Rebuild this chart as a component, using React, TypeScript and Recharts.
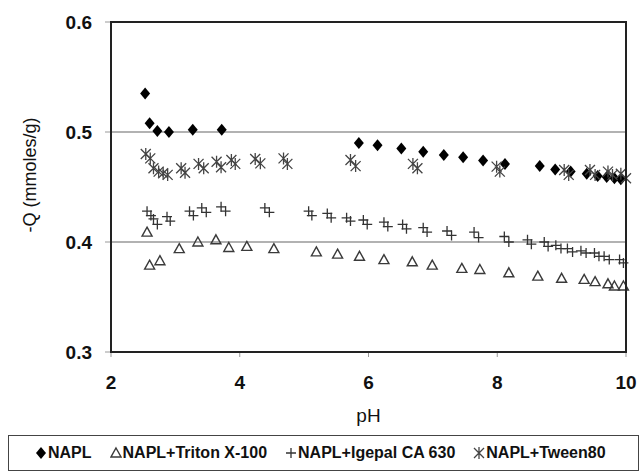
import React from "react";
import {
  ScatterChart,
  Scatter,
  XAxis,
  YAxis,
  CartesianGrid,
  Legend,
} from "recharts";

const FONT = "Arial, 'Liberation Sans', sans-serif";

// pH values and -Q (mmoles/g)
const naplPH = [2.53, 2.6, 2.72, 2.9, 3.27, 3.72, 5.85, 6.14, 6.51, 6.85, 7.17, 7.47, 7.78, 8.12, 8.66, 8.9, 9.14, 9.39, 9.56, 9.7, 9.82, 9.92];
const naplQ = [0.535, 0.508, 0.501, 0.5, 0.502, 0.502, 0.49, 0.488, 0.485, 0.482, 0.479, 0.477, 0.474, 0.471, 0.469, 0.466, 0.464, 0.462, 0.46, 0.459, 0.458, 0.457];

const tritonPH = [2.56, 2.6, 2.76, 3.06, 3.35, 3.63, 3.83, 4.11, 4.53, 5.19, 5.52, 5.86, 6.24, 6.68, 6.99, 7.45, 7.73, 8.18, 8.63, 9.0, 9.35, 9.52, 9.72, 9.82, 9.96];
const tritonQ = [0.409, 0.379, 0.383, 0.394, 0.4, 0.402, 0.395, 0.396, 0.394, 0.391, 0.389, 0.387, 0.384, 0.382, 0.379, 0.376, 0.375, 0.372, 0.369, 0.367, 0.366, 0.364, 0.362, 0.36, 0.36];

const igepalPH = [2.56, 2.62, 2.66, 2.72, 2.87, 2.92, 3.22, 3.28, 3.41, 3.48, 3.71, 3.78, 4.39, 4.46, 5.07, 5.12, 5.36, 5.42, 5.66, 5.72, 5.92, 5.98, 6.24, 6.3, 6.53, 6.59, 6.85, 6.91, 7.22, 7.29, 7.64, 7.71, 8.11, 8.18, 8.47, 8.53, 8.73, 8.79, 8.91, 8.99, 9.09, 9.17, 9.3, 9.38, 9.51, 9.58, 9.66, 9.74, 9.9, 9.96];
const igepalQ = [0.428, 0.424, 0.421, 0.416, 0.423, 0.419, 0.428, 0.424, 0.431, 0.427, 0.432, 0.428, 0.431, 0.427, 0.428, 0.424, 0.426, 0.422, 0.422, 0.419, 0.42, 0.416, 0.418, 0.414, 0.416, 0.412, 0.413, 0.409, 0.41, 0.406, 0.409, 0.404, 0.405, 0.4, 0.402, 0.398, 0.4, 0.396, 0.397, 0.394, 0.394, 0.391, 0.392, 0.39, 0.39, 0.387, 0.387, 0.384, 0.384, 0.381];

const tweenPH = [2.54, 2.61, 2.66, 2.74, 2.81, 2.88, 3.09, 3.15, 3.36, 3.44, 3.64, 3.71, 3.87, 3.93, 4.24, 4.32, 4.68, 4.74, 5.72, 5.8, 6.69, 6.76, 7.99, 8.04, 9.04, 9.11, 9.44, 9.52, 9.72, 9.79, 9.92, 10.0];
const tweenQ = [0.48, 0.476, 0.467, 0.464, 0.4625, 0.461, 0.467, 0.463, 0.471, 0.467, 0.473, 0.468, 0.4745, 0.471, 0.4755, 0.4715, 0.476, 0.471, 0.4745, 0.469, 0.471, 0.467, 0.4685, 0.464, 0.4655, 0.461, 0.4655, 0.461, 0.464, 0.461, 0.462, 0.458];

const xTicks = [2, 4, 6, 8, 10];
const yTicks = [0.3, 0.4, 0.5, 0.6];
const gridValues = [0.4, 0.5];

// chart layout
const W = 641;
const H = 471;
const M = { top: 22, right: 15, left: 0, bottom: 0 };
const Y_AXIS_W = 111;
const X_AXIS_H = 83;
const LEGEND_H = 36;

const toPoints = (xs: number[], ys: number[]) => xs.map((x, i) => ({ x, y: ys[i] }));

const Diamond = ({ cx, cy }: any) => (
  <path d={`M${cx},${cy - 6}L${cx + 5},${cy}L${cx},${cy + 6}L${cx - 5},${cy}Z`} fill="#000" />
);
const Triangle = ({ cx, cy }: any) => (
  <path
    d={`M${cx},${cy - 5}L${cx + 5},${cy + 4}L${cx - 5},${cy + 4}Z`}
    fill="none"
    stroke="#3a3a3a"
    strokeWidth={1.4}
  />
);
const Plus = ({ cx, cy }: any) => (
  <path d={`M${cx - 5},${cy}H${cx + 5}M${cx},${cy - 5}V${cy + 5}`} stroke="#333" strokeWidth={1.3} />
);
const Star = ({ cx, cy }: any) => (
  <path
    d={`M${cx - 5},${cy - 5}L${cx + 5},${cy + 5}M${cx + 5},${cy - 5}L${cx - 5},${cy + 5}M${cx},${cy - 6}V${cy + 6}`}
    stroke="#444"
    strokeWidth={1.3}
  />
);

const series = [
  { name: "NAPL", shape: Diamond, data: toPoints(naplPH, naplQ) },
  { name: "NAPL+Triton X-100", shape: Triangle, data: toPoints(tritonPH, tritonQ) },
  { name: "NAPL+Igepal CA 630", shape: Plus, data: toPoints(igepalPH, igepalQ) },
  { name: "NAPL+Tween 80", shape: Star, data: toPoints(tweenPH, tweenQ) },
];

const legendLabels = ["NAPL", "NAPL+Triton X-100", "NAPL+Igepal CA 630", "NAPL+Tween80"];

function LegendBox() {
  return (
    <div
      style={{
        boxSizing: "border-box",
        height: LEGEND_H,
        border: "1.5px solid #444",
        display: "flex",
        alignItems: "center",
        paddingLeft: 26,
        gap: 18,
        fontFamily: FONT,
        fontWeight: "bold",
        fontSize: 16,
        color: "#111",
        background: "#fff",
      }}
    >
      {series.map((s, i) => {
        const Shape = s.shape;
        return (
          <span key={s.name} style={{ display: "flex", alignItems: "center" }}>
            <svg width={12} height={14} style={{ marginRight: 1 }}>
              <Shape cx={6} cy={7} />
            </svg>
            {legendLabels[i]}
          </span>
        );
      })}
    </div>
  );
}

export default function App() {
  const plotLeft = M.left + Y_AXIS_W;
  const plotTop = M.top;
  const plotW = W - plotLeft - M.right;
  const plotH = H - M.top - M.bottom - LEGEND_H - X_AXIS_H;
  return (
    <div style={{ position: "absolute", left: 0, top: 0, width: W, height: H, background: "#fff" }}>
      <ScatterChart width={W} height={H} margin={M}>
        <CartesianGrid vertical={false} horizontalValues={gridValues} stroke="#999" strokeWidth={1.5} />
        <XAxis
          type="number"
          dataKey="x"
          domain={[2, 10]}
          ticks={xTicks}
          height={X_AXIS_H}
          axisLine={{ stroke: "#222", strokeWidth: 2 }}
          tickLine={{ stroke: "#999" }}
          tickSize={5}
          tickMargin={19}
          tick={{ fill: "#111", fontSize: 19, fontWeight: "bold", fontFamily: FONT }}
          label={({ viewBox }: any) => (
            <text
              x={viewBox.x + viewBox.width / 2}
              y={415}
              textAnchor="middle"
              dominantBaseline="central"
              fontSize={19}
              fontFamily={FONT}
              fill="#111"
            >
              pH
            </text>
          )}
        />
        <YAxis
          type="number"
          dataKey="y"
          domain={[0.3, 0.6]}
          ticks={yTicks}
          width={Y_AXIS_W}
          axisLine={{ stroke: "#222", strokeWidth: 2 }}
          tickLine={{ stroke: "#999" }}
          tickSize={6}
          tickMargin={13}
          tickFormatter={(v: number) => v.toFixed(1)}
          tick={{ fill: "#111", fontSize: 19, fontWeight: "bold", fontFamily: FONT }}
          label={() => (
            <text
              x={30}
              y={175}
              transform="rotate(-90 30 175)"
              textAnchor="middle"
              dominantBaseline="central"
              fontSize={18}
              fontFamily={FONT}
              fill="#111"
            >
              -Q (mmoles/g)
            </text>
          )}
        />
        {series.map((s) => (
          <Scatter key={s.name} name={s.name} data={s.data} shape={s.shape} isAnimationActive={false} />
        ))}
        <Legend
          verticalAlign="bottom"
          content={() => <LegendBox />}
          wrapperStyle={{ left: 8, width: 631, bottom: 0 }}
        />
      </ScatterChart>
      {/* plot frame around the chart's plot area */}
      <div
        style={{
          position: "absolute",
          left: plotLeft - 1,
          top: plotTop - 1,
          width: plotW + 2,
          height: plotH + 2,
          boxSizing: "border-box",
          border: "2px solid #222",
          pointerEvents: "none",
        }}
      />
    </div>
  );
}
